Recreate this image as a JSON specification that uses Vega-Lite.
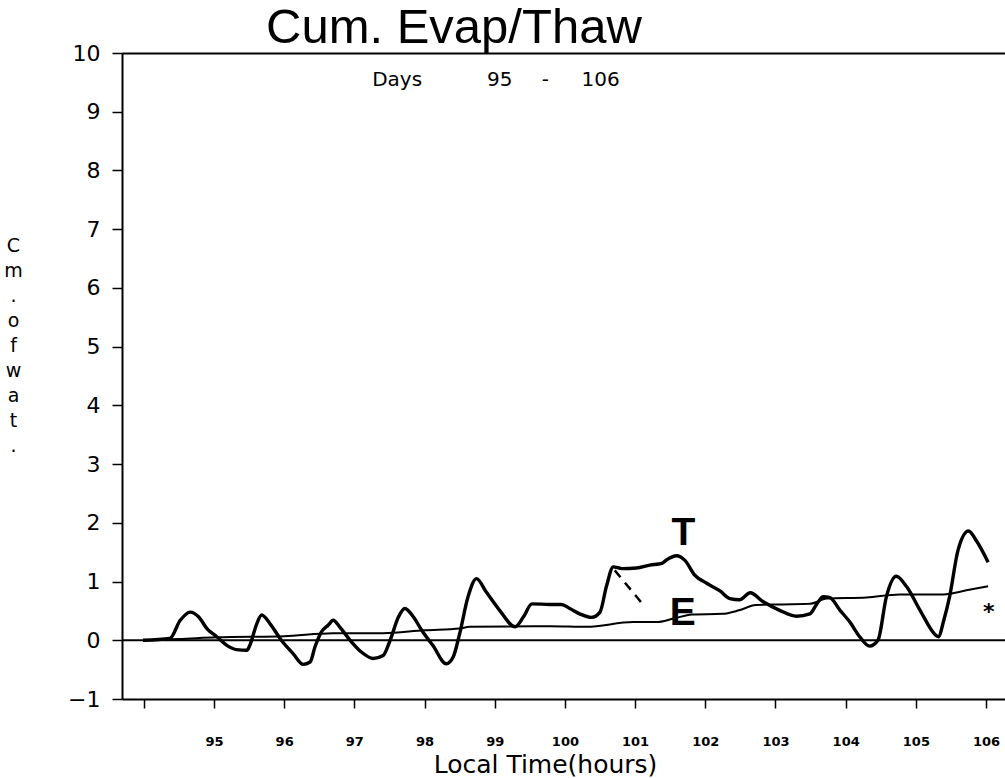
{
  "$schema": "https://vega.github.io/schema/vega-lite/v6.json",
  "width": 883,
  "height": 646,
  "autosize": {"type": "none"},
  "padding": {"left": 122, "top": 53, "right": 0, "bottom": 79},
  "background": "white",
  "config": {"view": {"stroke": null}, "font": "DejaVu Sans"},
  "title": {
    "text": "Cum. Evap/Thaw",
    "font": "Liberation Sans",
    "fontSize": 49,
    "fontWeight": "normal",
    "color": "black",
    "anchor": "start",
    "frame": "group",
    "dx": 144,
    "baseline": "alphabetic",
    "offset": -50
  },
  "datasets": {
    "T": [
      {"day": 93.99, "val": 0}, {"day": 94.37, "val": 0.03}, {"day": 94.52, "val": 0.34}, {"day": 94.66, "val": 0.48},
      {"day": 94.78, "val": 0.40}, {"day": 94.90, "val": 0.20}, {"day": 95.04, "val": 0.06}, {"day": 95.20, "val": -0.10},
      {"day": 95.32, "val": -0.16}, {"day": 95.47, "val": -0.17}, {"day": 95.51, "val": -0.09}, {"day": 95.61, "val": 0.28},
      {"day": 95.68, "val": 0.43}, {"day": 95.80, "val": 0.28}, {"day": 95.96, "val": 0.0}, {"day": 96.13, "val": -0.23},
      {"day": 96.27, "val": -0.41}, {"day": 96.37, "val": -0.37}, {"day": 96.44, "val": -0.11}, {"day": 96.53, "val": 0.14},
      {"day": 96.63, "val": 0.26}, {"day": 96.70, "val": 0.34}, {"day": 96.79, "val": 0.23}, {"day": 96.94, "val": 0.0},
      {"day": 97.10, "val": -0.20}, {"day": 97.27, "val": -0.31}, {"day": 97.41, "val": -0.26}, {"day": 97.51, "val": 0.0},
      {"day": 97.63, "val": 0.40}, {"day": 97.72, "val": 0.54}, {"day": 97.84, "val": 0.40}, {"day": 97.96, "val": 0.17},
      {"day": 98.12, "val": -0.09}, {"day": 98.31, "val": -0.40}, {"day": 98.41, "val": -0.28}, {"day": 98.50, "val": 0.11},
      {"day": 98.62, "val": 0.74}, {"day": 98.74, "val": 1.05}, {"day": 98.88, "val": 0.82}, {"day": 99.07, "val": 0.51},
      {"day": 99.29, "val": 0.23}, {"day": 99.41, "val": 0.40}, {"day": 99.53, "val": 0.62}, {"day": 99.79, "val": 0.61},
      {"day": 99.95, "val": 0.61}, {"day": 100.07, "val": 0.54}, {"day": 100.21, "val": 0.45}, {"day": 100.38, "val": 0.39},
      {"day": 100.50, "val": 0.48}, {"day": 100.59, "val": 0.91}, {"day": 100.69, "val": 1.25}, {"day": 100.81, "val": 1.22},
      {"day": 101.02, "val": 1.23}, {"day": 101.21, "val": 1.28}, {"day": 101.38, "val": 1.31}, {"day": 101.45, "val": 1.37},
      {"day": 101.59, "val": 1.44}, {"day": 101.71, "val": 1.36}, {"day": 101.85, "val": 1.11}, {"day": 102.02, "val": 0.97},
      {"day": 102.21, "val": 0.84}, {"day": 102.35, "val": 0.71}, {"day": 102.49, "val": 0.69}, {"day": 102.64, "val": 0.81},
      {"day": 102.82, "val": 0.66}, {"day": 103.06, "val": 0.51}, {"day": 103.30, "val": 0.41}, {"day": 103.49, "val": 0.45},
      {"day": 103.59, "val": 0.62}, {"day": 103.68, "val": 0.74}, {"day": 103.77, "val": 0.73}, {"day": 103.92, "val": 0.51},
      {"day": 104.06, "val": 0.31}, {"day": 104.20, "val": 0.06}, {"day": 104.34, "val": -0.10}, {"day": 104.46, "val": 0.0},
      {"day": 104.58, "val": 0.74}, {"day": 104.72, "val": 1.09}, {"day": 104.87, "val": 0.91}, {"day": 105.06, "val": 0.51},
      {"day": 105.29, "val": 0.08}, {"day": 105.32, "val": 0.06}, {"day": 105.40, "val": 0.35}, {"day": 105.48, "val": 0.74},
      {"day": 105.60, "val": 1.53}, {"day": 105.75, "val": 1.86}, {"day": 105.86, "val": 1.70}, {"day": 106.03, "val": 1.33}
    ],
    "E": [
      {"day": 93.99, "val": 0}, {"day": 94.5, "val": 0.02}, {"day": 95.04, "val": 0.05}, {"day": 96.0, "val": 0.07},
      {"day": 96.70, "val": 0.12}, {"day": 97.41, "val": 0.12}, {"day": 98.0, "val": 0.17}, {"day": 98.5, "val": 0.20},
      {"day": 98.64, "val": 0.23}, {"day": 99.79, "val": 0.24}, {"day": 100.31, "val": 0.23}, {"day": 100.97, "val": 0.31},
      {"day": 101.3, "val": 0.31}, {"day": 101.55, "val": 0.37}, {"day": 101.81, "val": 0.44}, {"day": 102.24, "val": 0.45},
      {"day": 102.48, "val": 0.51}, {"day": 102.72, "val": 0.60}, {"day": 103.1, "val": 0.61}, {"day": 103.49, "val": 0.62},
      {"day": 103.73, "val": 0.71}, {"day": 104.3, "val": 0.73}, {"day": 104.77, "val": 0.78}, {"day": 105.39, "val": 0.78},
      {"day": 105.72, "val": 0.85}, {"day": 106.03, "val": 0.92}
    ],
    "dash": [{"day": 100.71, "val": 1.19}, {"day": 101.14, "val": 0.57}],
    "sub": [
      {"day": 97.61, "val": 9.54, "text": "Days"},
      {"day": 99.07, "val": 9.54, "text": "95"},
      {"day": 99.72, "val": 9.54, "text": "-"},
      {"day": 100.51, "val": 9.54, "text": "106"}
    ],
    "labels": [
      {"day": 101.69, "val": 1.82, "text": "T"},
      {"day": 101.68, "val": 0.46, "text": "E"}
    ],
    "star": [{"day": 106.04, "val": 0.56, "text": "*"}]
  },
  "resolve": {"axis": {"x": "independent"}},
  "layer": [
    {
      "data": {"values": [{"val": 0}]},
      "mark": {"type": "rule", "color": "black", "strokeWidth": 2},
      "encoding": {"y": {"field": "val", "type": "quantitative", "scale": {"domain": [-1, 10], "nice": false, "zero": false}}}
    },
    {
      "data": {"name": "E"},
      "mark": {"type": "line", "color": "black", "strokeWidth": 2, "interpolate": "monotone"},
      "encoding": {
        "x": {
          "field": "day", "type": "quantitative",
          "scale": {"domain": [93.69, 106.27], "nice": false, "zero": false},
          "axis": {
            "orient": "bottom",
            "values": [94, 94.25, 94.5, 94.75, 95, 95.25, 95.5, 95.75, 96, 96.25, 96.5, 96.75, 97, 97.25, 97.5, 97.75, 98, 98.25, 98.5, 98.75, 99, 99.25, 99.5, 99.75, 100, 100.25, 100.5, 100.75, 101, 101.25, 101.5, 101.75, 102, 102.25, 102.5, 102.75, 103, 103.25, 103.5, 103.75, 104, 104.25, 104.5, 104.75, 105, 105.25, 105.5, 105.75, 106],
            "format": "d",
            "labelExpr": "(datum.value % 1 === 0 && datum.value >= 95) ? datum.label : ''",
            "labelOverlap": false,
            "labelFlush": false,
            "labelFont": "DejaVu Sans",
            "labelFontSize": 13,
            "labelFontWeight": "bold",
            "labelColor": "black",
            "labelBaseline": "middle",
            "labelPadding": 33,
            "tickSize": {"condition": {"test": "datum.value % 1 === 0", "value": 9}, "value": 5},
            "tickColor": "black",
            "tickWidth": 1.5,
            "domainColor": "black",
            "domainWidth": 2,
            "grid": false,
            "title": "Local Time(hours)",
            "titleFont": "DejaVu Sans",
            "titleFontSize": 25,
            "titleFontWeight": "normal",
            "titleColor": "black",
            "titleAlign": "center",
            "titleBaseline": "alphabetic",
            "titleX": 423,
            "titleY": 73
          }
        },
        "y": {
          "field": "val", "type": "quantitative",
          "scale": {"domain": [-1, 10], "nice": false, "zero": false},
          "axis": {
            "values": [-1, -0.75, -0.5, -0.25, 0, 0.25, 0.5, 0.75, 1, 1.25, 1.5, 1.75, 2, 2.25, 2.5, 2.75, 3, 3.25, 3.5, 3.75, 4, 4.25, 4.5, 4.75, 5, 5.25, 5.5, 5.75, 6, 6.25, 6.5, 6.75, 7, 7.25, 7.5, 7.75, 8, 8.25, 8.5, 8.75, 9, 9.25, 9.5, 9.75, 10],
            "format": "d",
            "labelExpr": "datum.value % 1 === 0 ? datum.label : ''",
            "labelOverlap": false,
            "labelFlush": false,
            "labelFont": "DejaVu Sans",
            "labelFontSize": 22,
            "labelColor": "black",
            "labelPadding": 12,
            "tickSize": {"condition": {"test": "datum.value % 1 === 0", "value": 10}, "value": 4},
            "tickColor": "black",
            "tickWidth": 1.5,
            "domainColor": "black",
            "domainWidth": 2,
            "grid": false,
            "title": ["C", "m", ".", "", "o", "f", "", "w", "a", "t", "."],
            "titleAngle": 0,
            "titleFont": "DejaVu Sans",
            "titleFontSize": 19,
            "titleFontWeight": "normal",
            "titleColor": "black",
            "titleAlign": "center",
            "titleBaseline": "top",
            "titleLineHeight": 25,
            "titleX": -109,
            "titleY": 183
          }
        }
      }
    },
    {
      "data": {"name": "T"},
      "mark": {"type": "line", "color": "black", "strokeWidth": 3.4, "interpolate": "monotone"},
      "encoding": {
        "x": {"field": "day", "type": "quantitative", "axis": null},
        "y": {"field": "val", "type": "quantitative"}
      }
    },
    {
      "data": {"name": "dash"},
      "mark": {"type": "line", "color": "black", "strokeWidth": 2.5, "strokeDash": [9, 7]},
      "encoding": {
        "x": {
          "field": "day", "type": "quantitative",
          "axis": {"orient": "top", "ticks": false, "labels": false, "domain": true, "domainColor": "black", "domainWidth": 2, "grid": false, "title": null}
        },
        "y": {"field": "val", "type": "quantitative"}
      }
    },
    {
      "data": {"name": "sub"},
      "mark": {"type": "text", "font": "DejaVu Sans", "fontSize": 20, "color": "black", "align": "center", "baseline": "middle"},
      "encoding": {
        "x": {"field": "day", "type": "quantitative", "axis": null},
        "y": {"field": "val", "type": "quantitative"},
        "text": {"field": "text"}
      }
    },
    {
      "data": {"name": "labels"},
      "mark": {"type": "text", "font": "Liberation Sans", "fontSize": 39, "fontWeight": "bold", "color": "black", "align": "center", "baseline": "middle"},
      "encoding": {
        "x": {"field": "day", "type": "quantitative", "axis": null},
        "y": {"field": "val", "type": "quantitative"},
        "text": {"field": "text"}
      }
    },
    {
      "data": {"name": "star"},
      "mark": {"type": "text", "font": "DejaVu Sans", "fontSize": 22, "fontWeight": "bold", "color": "black", "align": "center", "baseline": "middle", "dy": 5},
      "encoding": {
        "x": {"field": "day", "type": "quantitative", "axis": null},
        "y": {"field": "val", "type": "quantitative"},
        "text": {"field": "text"}
      }
    }
  ]
}
